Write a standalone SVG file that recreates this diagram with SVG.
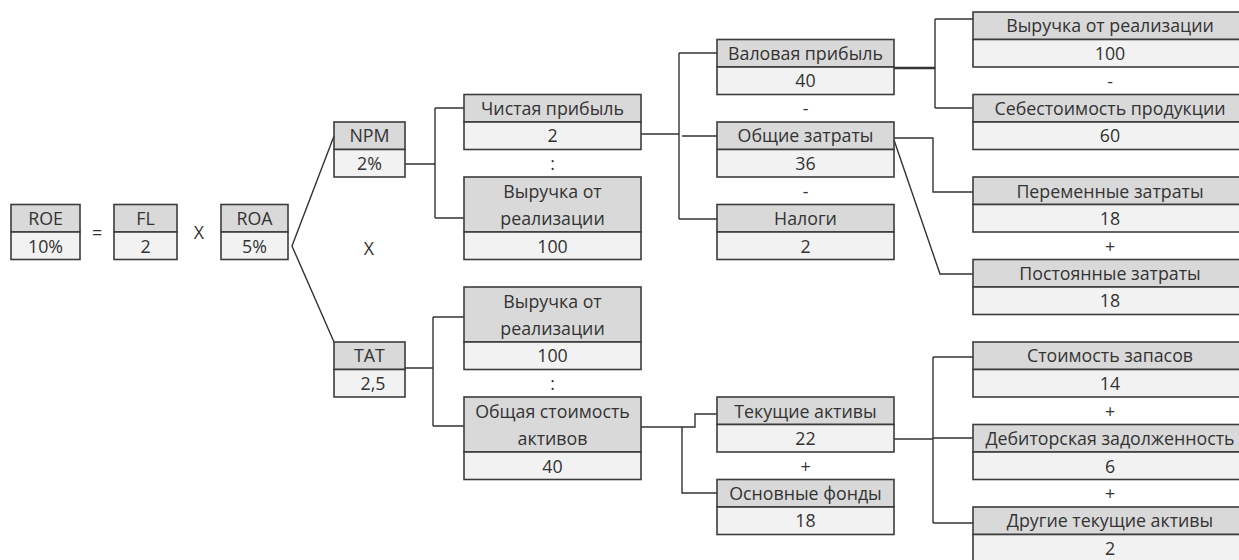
<svg xmlns="http://www.w3.org/2000/svg" width="1239" height="560" viewBox="0 0 1239 560">
<style>
.h{fill:#d9d9d9;stroke:#3c3c3c;stroke-width:1.6}
.v{fill:#f2f2f2;stroke:#3c3c3c;stroke-width:1.6}
text{font-family:"Open Sans","Liberation Sans",Arial,sans-serif;font-size:17.8px;fill:#333;text-anchor:middle}
.c{fill:none;stroke:#333;stroke-width:1.4}
</style>
<rect width="1239" height="560" fill="#fff"/>
<g id="connectors" class="c">
<polyline points="334,136 292,246 334,342"/>
<path d="M405,164H435M435,108V218M435,108H464M435,218H464"/>
<path d="M405,368H433M433,317V426M433,317H464M433,426H464"/>
<path d="M641,134H679M679,53V219M679,53H717M682,136H717M679,219H717"/>
<path d="M641,427H695V414H717M682,427V493H717"/>
<path d="M894,68H935" stroke-width="2.6"/>
<path d="M935,19V108M935,19H973M935,108H973"/>
<path d="M894,138H933V192H973M894,140L940,274H973"/>
<path d="M894,439H933M933,357V523M933,357H973M933,438H973M933,523H973"/>
</g>
<g id="operators">
<text x="97" y="238.5">=</text>
<text x="199" y="238.5">X</text>
<text x="369" y="254.5">X</text>
<text x="552.5" y="169.5">:</text>
<text x="552.5" y="389.5">:</text>
<text x="805.5" y="114.5">-</text>
<text x="805.5" y="197.5">-</text>
<text x="805.5" y="472.5">+</text>
<text x="1110" y="87.5">-</text>
<text x="1110" y="252.5">+</text>
<text x="1110" y="417.5">+</text>
<text x="1110" y="499.5">+</text>
</g>
<g id="roe"><rect class="h" x="11" y="204.5" width="69" height="27.5"/><rect class="v" x="11" y="232" width="69" height="27.5"/><text x="45.5" y="224.5">ROE</text><text x="45.5" y="252.5">10%</text></g>
<g id="fl"><rect class="h" x="114" y="204.5" width="63" height="27.5"/><rect class="v" x="114" y="232" width="63" height="27.5"/><text x="145.5" y="224.5">FL</text><text x="145.5" y="252.5">2</text></g>
<g id="roa"><rect class="h" x="221" y="204.5" width="67" height="27.5"/><rect class="v" x="221" y="232" width="67" height="27.5"/><text x="254.5" y="224.5">ROA</text><text x="254.5" y="252.5">5%</text></g>
<g id="npm"><rect class="h" x="334" y="122" width="71" height="27.5"/><rect class="v" x="334" y="149.5" width="71" height="27.5"/><text x="369.5" y="142">NPM</text><text x="369.5" y="169.5">2%</text></g>
<g id="tat"><rect class="h" x="334" y="342" width="71" height="27.5"/><rect class="v" x="334" y="369.5" width="71" height="27.5"/><text x="369.5" y="362">TAT</text><text x="373" y="389.5">2,5</text></g>
<g id="net-profit"><rect class="h" x="464" y="94.5" width="177" height="27.5"/><rect class="v" x="464" y="122" width="177" height="27.5"/><text x="552.5" y="114.5">Чистая прибыль</text><text x="552.5" y="142">2</text></g>
<g id="revenue-npm"><rect class="h" x="464" y="177" width="177" height="55"/><rect class="v" x="464" y="232" width="177" height="27.5"/><text x="552.5" y="197.5">Выручка от</text><text x="552.5" y="224.5">реализации</text><text x="552.5" y="252.5">100</text></g>
<g id="revenue-tat"><rect class="h" x="464" y="287" width="177" height="55"/><rect class="v" x="464" y="342" width="177" height="27.5"/><text x="552.5" y="307.5">Выручка от</text><text x="552.5" y="334.5">реализации</text><text x="552.5" y="362">100</text></g>
<g id="total-assets"><rect class="h" x="464" y="397" width="177" height="55"/><rect class="v" x="464" y="452" width="177" height="27.5"/><text x="552.5" y="417.5">Общая стоимость</text><text x="552.5" y="444.5">активов</text><text x="552.5" y="472.5">40</text></g>
<g id="gross-profit"><rect class="h" x="717" y="39.5" width="177" height="27.5"/><rect class="v" x="717" y="67" width="177" height="27.5"/><text x="805.5" y="59.5">Валовая прибыль</text><text x="805.5" y="87">40</text></g>
<g id="total-costs"><rect class="h" x="717" y="122" width="177" height="27.5"/><rect class="v" x="717" y="149.5" width="177" height="27.5"/><text x="805.5" y="142">Общие затраты</text><text x="805.5" y="169.5">36</text></g>
<g id="taxes"><rect class="h" x="717" y="204.5" width="177" height="27.5"/><rect class="v" x="717" y="232" width="177" height="27.5"/><text x="805.5" y="224.5">Налоги</text><text x="805.5" y="252.5">2</text></g>
<g id="current-assets"><rect class="h" x="717" y="397" width="177" height="27.5"/><rect class="v" x="717" y="424.5" width="177" height="27.5"/><text x="805.5" y="417.5">Текущие активы</text><text x="805.5" y="444.5">22</text></g>
<g id="fixed-assets"><rect class="h" x="717" y="479.5" width="177" height="27.5"/><rect class="v" x="717" y="507" width="177" height="27.5"/><text x="805.5" y="499.5">Основные фонды</text><text x="805.5" y="527">18</text></g>
<g id="sales-revenue"><rect class="h" x="973" y="12" width="274" height="27.5"/><rect class="v" x="973" y="39.5" width="274" height="27.5"/><text x="1110" y="32">Выручка от реализации</text><text x="1110" y="59.5">100</text></g>
<g id="cost-of-goods"><rect class="h" x="973" y="94.5" width="274" height="27.5"/><rect class="v" x="973" y="122" width="274" height="27.5"/><text x="1110" y="114.5">Себестоимость продукции</text><text x="1110" y="142">60</text></g>
<g id="variable-costs"><rect class="h" x="973" y="177" width="274" height="27.5"/><rect class="v" x="973" y="204.5" width="274" height="27.5"/><text x="1110" y="197.5">Переменные затраты</text><text x="1110" y="224.5">18</text></g>
<g id="fixed-costs"><rect class="h" x="973" y="259.5" width="274" height="27.5"/><rect class="v" x="973" y="287" width="274" height="27.5"/><text x="1110" y="279.5">Постоянные затраты</text><text x="1110" y="307">18</text></g>
<g id="inventory"><rect class="h" x="973" y="342" width="274" height="27.5"/><rect class="v" x="973" y="369.5" width="274" height="27.5"/><text x="1110" y="362">Стоимость запасов</text><text x="1110" y="389.5">14</text></g>
<g id="receivables"><rect class="h" x="973" y="424.5" width="274" height="27.5"/><rect class="v" x="973" y="452" width="274" height="27.5"/><text x="1110" y="444.5">Дебиторская задолженность</text><text x="1110" y="472.5">6</text></g>
<g id="other-current"><rect class="h" x="973" y="507" width="274" height="27.5"/><rect class="v" x="973" y="534.5" width="274" height="27.5"/><text x="1110" y="527">Другие текущие активы</text><text x="1110" y="554.5">2</text></g>
</svg>
